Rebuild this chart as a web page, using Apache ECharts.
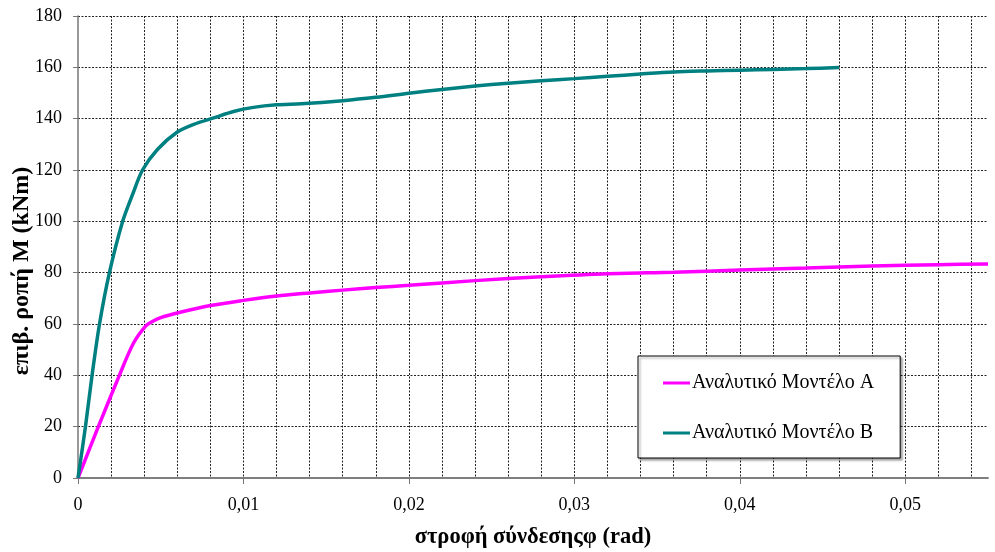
<!DOCTYPE html>
<html>
<head>
<meta charset="utf-8">
<script src="https://cdn.jsdelivr.net/npm/echarts@6/dist/echarts.min.js"></script>
<style>html,body{margin:0;padding:0;background:#fff}#c{width:995px;height:552px}</style>
</head>
<body>
<div id="c"></div>
<script>
const seriesNames = ['Αναλυτικό Μοντέλο Α', 'Αναλυτικό Μοντέλο Β'];
const angleA = [0, 0.00123, 0.0025, 0.00335, 0.0041, 0.0045, 0.005, 0.006, 0.008, 0.01, 0.012, 0.014, 0.016, 0.018, 0.02, 0.024, 0.028, 0.032, 0.036, 0.04, 0.044, 0.048, 0.052, 0.055];
const momentA = [0, 20, 40, 52.5, 59.3, 61.0, 62.5, 64.3, 67.2, 69.2, 70.9, 72.1, 73.2, 74.2, 75.1, 76.9, 78.4, 79.6, 80.2, 81.0, 81.8, 82.6, 83.1, 83.4];
const angleB = [0, 0.00045, 0.00085, 0.0013, 0.0019, 0.0027, 0.0033, 0.0039, 0.0048, 0.006, 0.007, 0.0082, 0.0094, 0.0106, 0.012, 0.0135, 0.016, 0.018, 0.02, 0.022, 0.024, 0.026, 0.028, 0.03, 0.032, 0.034, 0.036, 0.038, 0.04, 0.042, 0.044, 0.046];
const momentB = [0, 20, 40, 60, 80, 100, 110.5, 120, 128, 134.8, 137.8, 140.3, 142.8, 144.4, 145.4, 145.8, 147.0, 148.3, 149.9, 151.4, 152.7, 153.8, 154.8, 155.6, 156.5, 157.4, 158.2, 158.6, 158.9, 159.2, 159.5, 159.9];
const xLabelValues = [0, 0.01, 0.02, 0.03, 0.04, 0.05];
const xTitle = 'στροφή σύνδεσηςφ (rad)';
const yTitle = 'επιβ. ροπή M (kNm)';

const font = '"Liberation Serif", "Times New Roman", serif';
const chart = echarts.init(document.getElementById('c'), null, {renderer: 'canvas'});
const gridLine = {show: true, lineStyle: {color: '#222', width: 1, type: [2, 1.5]}};
const axisLineStyle = {show: true, lineStyle: {color: '#777', width: 1.5}};
chart.setOption({
  animation: false,
  backgroundColor: '#fff',
  grid: {left: 78, right: 7, top: 16, bottom: 74, containLabel: false, outerBoundsMode: 'none'},
  legend: {
    orient: 'vertical',
    left: 638, top: 356,
    padding: [17, 26, 15, 25],
    itemGap: 30,
    itemWidth: 27, itemHeight: 3,
    icon: 'rect',
    backgroundColor: '#fff',
    borderColor: '#000', borderWidth: 1,
    shadowColor: 'rgba(0,0,0,0.35)', shadowOffsetX: 2, shadowOffsetY: 2, shadowBlur: 2,
    textStyle: {fontFamily: font, fontSize: 20, color: '#000', padding: [0, 0, 0, -3]},
    data: seriesNames
  },
  graphic: [{
    type: 'text', x: 22, y: 271, rotation: Math.PI / 2,
    style: {text: yTitle, font: 'bold 24px ' + font, fill: '#000', align: 'center', verticalAlign: 'middle'}
  }],
  xAxis: [{
    type: 'value', min: 0, max: 0.055, interval: 0.002, position: 'bottom',
    axisLine: axisLineStyle,
    axisTick: {show: false},
    axisLabel: {show: false},
    splitLine: Object.assign({showMinLine: false, showMaxLine: false}, gridLine)
  }, {
    type: 'value', min: 0, max: 0.055, interval: 0.01, position: 'bottom', offset: 0,
    name: xTitle, nameLocation: 'middle', nameGap: 48,
    nameTextStyle: {fontFamily: font, fontSize: 22.5, fontWeight: 'bold', color: '#000'},
    axisLine: axisLineStyle,
    axisTick: {show: true, length: 6, customValues: xLabelValues, lineStyle: {color: '#777'}},
    axisLabel: {show: true, customValues: xLabelValues, margin: 18, fontFamily: font, fontSize: 18, color: '#000',
      formatter: v => String(Math.round(v * 100) / 100).replace('.', ',')},
    splitLine: {show: false}
  }],
  yAxis: {
    type: 'value', min: 0, max: 180, interval: 20,
    axisLine: axisLineStyle,
    axisTick: {show: true, length: 5, lineStyle: {color: '#777'}},
    axisLabel: {margin: 16, fontFamily: font, fontSize: 18, color: '#000'},
    splitLine: Object.assign({showMinLine: false}, gridLine)
  },
  series: [
    {name: seriesNames[0], type: 'line', xAxisIndex: 0, data: angleA.map((x, i) => [x, momentA[i]]), showSymbol: false,
      smooth: 0.3,
      lineStyle: {color: '#FF00FF', width: 3.5}, itemStyle: {color: '#FF00FF'}},
    {name: seriesNames[1], type: 'line', xAxisIndex: 0, data: angleB.map((x, i) => [x, momentB[i]]), showSymbol: false,
      smooth: 0.3,
      lineStyle: {color: '#008080', width: 3.5}, itemStyle: {color: '#008080'}}
  ]
});
</script>
</body>
</html>
